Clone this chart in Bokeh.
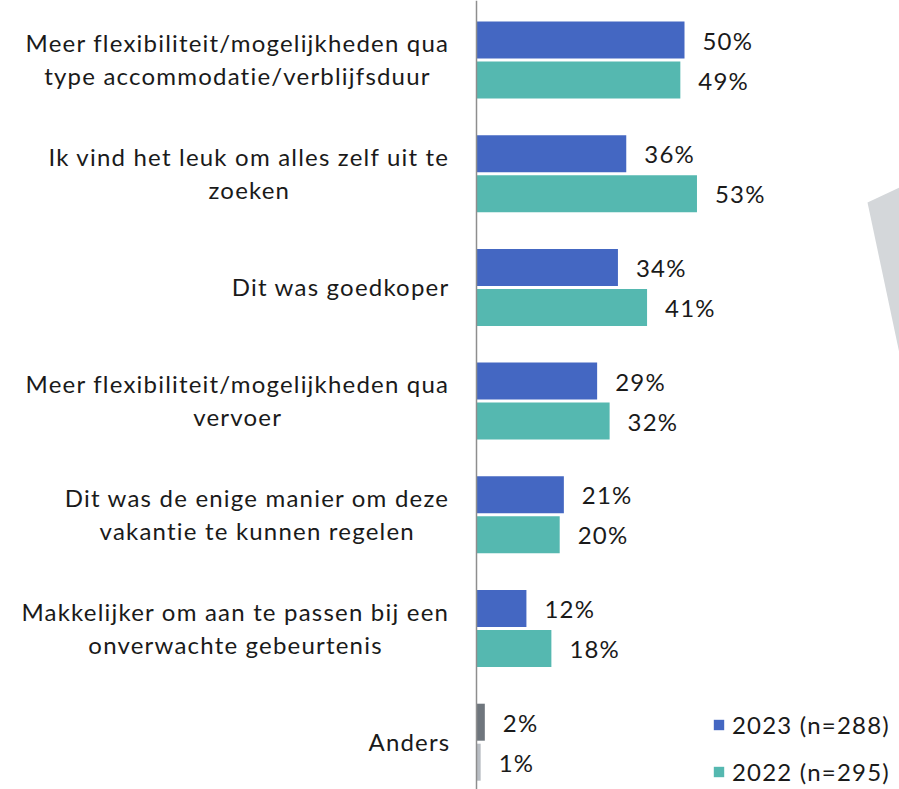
import glob
import struct

from bokeh.plotting import figure
from bokeh.models import (Range1d, Span, Legend, LegendItem, ColumnDataSource,
                          PolyAnnotation, InlineStyleSheet)
from bokeh.core.properties import value
from bokeh.embed import file_html
from bokeh.resources import INLINE

# ---------------- data ----------------
categories = [
    "Meer flexibiliteit/mogelijkheden qua\ntype accommodatie/verblijfsduur",
    "Ik vind het leuk om alles zelf uit te\nzoeken",
    "Dit was goedkoper",
    "Meer flexibiliteit/mogelijkheden qua\nvervoer",
    "Dit was de enige manier om deze\nvakantie te kunnen regelen",
    "Makkelijker om aan te passen bij een\nonverwachte gebeurtenis",
    "Anders",
]
values_2023 = [50, 36, 34, 29, 21, 12, 2]
values_2022 = [49, 53, 41, 32, 20, 18, 1]
series_labels = ["2023 (n=288)", "2022 (n=295)"]
other_category = "Anders"

# ---------------- style ----------------
FONT = "Lato"
FS = 24
TRACK = 1.2
TXT = "#1a1a1a"
BLUE = "#4467C2"
TEAL = "#55B8B0"
GRAY_DARK = "#6F767D"
GRAY_LIGHT = "#B8BDC3"

W, H = 899, 789
PX_PER_UNIT_X = 4.16
ZERO_PX = 476
CAT_PITCH = 113.7
FIRST_CAT_PX = 59.5
OFF = 20 / CAT_PITCH
BAR_H = 37 / CAT_PITCH


# --- text width measurement (for centring multi-line category labels) ---
def make_measurer():
    paths = glob.glob("/usr/share/fonts/**/Lato-Regular.ttf", recursive=True)
    if not paths:
        return lambda t, s: 0.48 * s * len(t)
    data = open(paths[0], "rb").read()
    num = struct.unpack(">H", data[4:6])[0]
    tables = {}
    for i in range(num):
        tag, cs, off, ln = struct.unpack(">4sIII", data[12 + 16 * i:28 + 16 * i])
        tables[tag.decode("latin1")] = off
    head = tables["head"]
    upem = struct.unpack(">H", data[head + 18:head + 20])[0]
    hhea = tables["hhea"]
    nhm = struct.unpack(">H", data[hhea + 34:hhea + 36])[0]
    hm = tables["hmtx"]
    adv = [struct.unpack(">H", data[hm + 4 * i:hm + 4 * i + 2])[0] for i in range(nhm)]
    cm = tables["cmap"]
    nsub = struct.unpack(">H", data[cm + 2:cm + 4])[0]
    charmap = {}
    for i in range(nsub):
        pid, eid, off = struct.unpack(">HHI", data[cm + 4 + 8 * i:cm + 12 + 8 * i])
        st = cm + off
        fmt = struct.unpack(">H", data[st:st + 2])[0]
        if fmt == 4 and pid in (0, 3):
            segx2 = struct.unpack(">H", data[st + 6:st + 8])[0]
            seg = segx2 // 2
            ends = struct.unpack(">%dH" % seg, data[st + 14:st + 14 + segx2])
            starts = struct.unpack(">%dH" % seg, data[st + 16 + segx2:st + 16 + 2 * segx2])
            deltas = struct.unpack(">%dh" % seg, data[st + 16 + 2 * segx2:st + 16 + 3 * segx2])
            rpos = st + 16 + 3 * segx2
            roffs = struct.unpack(">%dH" % seg, data[rpos:rpos + segx2])
            for s in range(seg):
                for c in range(starts[s], min(ends[s], 255) + 1):
                    if roffs[s] == 0:
                        g = (c + deltas[s]) & 0xFFFF
                    else:
                        a = rpos + 2 * s + roffs[s] + 2 * (c - starts[s])
                        g = struct.unpack(">H", data[a:a + 2])[0]
                        if g:
                            g = (g + deltas[s]) & 0xFFFF
                    charmap[c] = g
            break

    def width(text, size):
        tot = 0
        for ch in text:
            g = charmap.get(ord(ch), 0)
            tot += adv[min(g, nhm - 1)]
        return tot * size / upem

    return width


measure = make_measurer()

# ---------------- figure ----------------
x_start = -ZERO_PX / PX_PER_UNIT_X
x_end = (W - ZERO_PX) / PX_PER_UNIT_X
y_top = -FIRST_CAT_PX / CAT_PITCH
y_bottom = (H - FIRST_CAT_PX) / CAT_PITCH

p = figure(
    width=W, height=H,
    x_range=Range1d(x_start, x_end),
    y_range=Range1d(y_bottom, y_top),
    output_backend="svg", toolbar_location=None,
    min_border=0,
)
p.stylesheets = [InlineStyleSheet(css=":host { letter-spacing: %.2fpx; }" % TRACK)]
p.xaxis.visible = False
p.yaxis.visible = False
p.grid.visible = False
p.outline_line_color = None
p.background_fill_color = "white"
p.border_fill_color = "white"

# decorative background shape (screen units, measured from the bottom)
p.add_layout(PolyAnnotation(
    xs=[867, 899, 899], ys=[H - 202, H - 187, H - 353],
    xs_units="screen", ys_units="screen",
    fill_color="#D4D7DA", fill_alpha=1.0, line_color=None, level="underlay",
))

idx = list(range(len(categories)))
is_other = [c == other_category for c in categories]
main = [i for i in idx if not is_other[i]]
other = [i for i in idx if is_other[i]]

src23 = ColumnDataSource(dict(y=[i - OFF for i in main], v=[values_2023[i] for i in main]))
src22 = ColumnDataSource(dict(y=[i + OFF for i in main], v=[values_2022[i] for i in main]))
src23o = ColumnDataSource(dict(y=[i - OFF for i in other], v=[values_2023[i] for i in other]))
src22o = ColumnDataSource(dict(y=[i + OFF for i in other], v=[values_2022[i] for i in other]))

r23 = p.hbar(y="y", right="v", left=0, height=BAR_H, source=src23,
             fill_color=BLUE, line_color=None)
r22 = p.hbar(y="y", right="v", left=0, height=BAR_H, source=src22,
             fill_color=TEAL, line_color=None)
p.hbar(y="y", right="v", left=0, height=BAR_H, source=src23o,
       fill_color=GRAY_DARK, line_color=None)
p.hbar(y="y", right="v", left=0, height=BAR_H, source=src22o,
       fill_color=GRAY_LIGHT, line_color=None)

# value labels
lab = ColumnDataSource(dict(
    x=values_2023 + values_2022,
    y=[i - OFF for i in idx] + [i + OFF for i in idx],
    t=["%d%%" % v for v in values_2023 + values_2022],
))
p.text(x="x", y="y", text="t", source=lab, x_offset=18,
       text_align="left", text_baseline="middle",
       text_font=value(FONT), text_font_size="%dpx" % FS, text_color=TXT)

# category labels: block right-aligned, lines centred inside block
# (Bokeh positions text from its un-tracked width, so the extra letter
#  spacing is compensated here)
LINE_H = 33
RIGHT_PAD = 26
cx, cy, cyo, ct, cxo = [], [], [], [], []
for i, c in enumerate(categories):
    lines = c.split("\n")
    bw = max(measure(l, FS) + TRACK * len(l) for l in lines)
    n = len(lines)
    for k, l in enumerate(lines):
        cx.append(0)
        cy.append(i)
        cyo.append((k - (n - 1) / 2) * LINE_H - 1)
        cxo.append(-RIGHT_PAD - bw / 2 - TRACK * len(l) / 2)
        ct.append(l)
csrc = ColumnDataSource(dict(x=cx, y=cy, yo=cyo, xo=cxo, t=ct))
p.text(x="x", y="y", text="t", source=csrc, x_offset="xo", y_offset="yo",
       text_align="center", text_baseline="middle",
       text_font=value(FONT), text_font_size="%dpx" % FS, text_color=TXT)

# axis line
p.add_layout(Span(location=0, dimension="height", line_color="#8E8E8E", line_width=1.5))

legend = Legend(
    items=[LegendItem(label=series_labels[0], renderers=[r23]),
           LegendItem(label=series_labels[1], renderers=[r22])],
    location=(712, 3),
    orientation="vertical",
    glyph_width=13, glyph_height=13,
    label_text_font=FONT, label_text_font_size="%dpx" % FS, label_text_color=TXT,
    label_standoff=7, spacing=18, padding=0, margin=0,
    background_fill_alpha=0, border_line_color=None,
)
p.add_layout(legend)

open("out.html", "w").write(file_html(p, INLINE))
